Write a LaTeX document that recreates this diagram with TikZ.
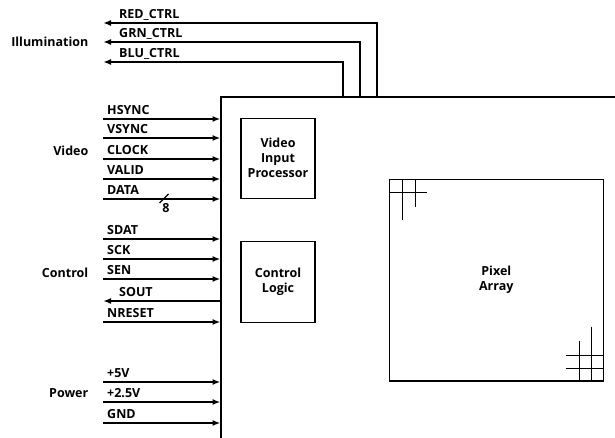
\documentclass[tikz,border=0pt]{standalone}
\usepackage{fontspec}
\setmainfont{Open Sans}
\usetikzlibrary{arrows.meta,positioning}

\tikzset{
  sig/.style={line width=2pt,-{Latex[length=8pt,width=6pt]}},
  sigtxt/.style={font=\bfseries\fontsize{12.5}{14}\selectfont,anchor=base west,inner sep=0pt},
  grptxt/.style={font=\bfseries\fontsize{12.5}{14}\selectfont,anchor=east,inner sep=0pt},
  blk/.style={draw,line width=1.5pt,align=center,inner sep=0pt,
    font=\bfseries\fontsize{12.5}{15}\selectfont},
  gridln/.style={line width=1pt}
}

\begin{document}
\begin{tikzpicture}[x=1pt,y=-1pt]
      \useasboundingbox (0,0) rectangle (615,438);
      % sensor chip outline
      \draw[line width=1.5pt] (615,97) -- (221,97) -- (221,438);
      % illumination outputs
      \foreach \i/\x/\y/\lbl in {1/377/23/RED\_CTRL,2/360/42/GRN\_CTRL,3/343/62/BLU\_CTRL}{
        \coordinate (ill\i) at (\x,97);
        \coordinate (illend\i) at (103,\y);
        \draw[sig] (ill\i) |- (illend\i);
        \node[sigtxt] (illtxt\i) at (119,{\y-4.5}) {\lbl};
      }
      \node[grptxt] (illum) at (88.5,42.3) {Illumination};
      % video inputs
      \foreach \i/\y/\lbl in {1/119/HSYNC,2/138/VSYNC,3/159/CLOCK,4/179/VALID,5/199/DATA}{
        \coordinate (vid\i) at (103,\y);
        \coordinate (vidend\i) at (220.5,\y);
        \draw[sig] (vid\i) -- (vidend\i);
        \node[sigtxt] (vidtxt\i) at (107,{\y-4.5}) {\lbl};
      }
      \node[grptxt] (video) at (88.5,151) {Video};
      \draw[line width=1.2pt] (159.5,203) -- (168.5,194);
      \node[font=\bfseries\fontsize{12.5}{14}\selectfont,inner sep=0pt] (width) at (166,208.3) {8};
      % control interface
      \foreach \i/\y/\lbl in {1/239/SDAT,2/259/SCK,3/279/SEN,5/322/NRESET}{
        \coordinate (ctl\i) at (103,\y);
        \coordinate (ctlend\i) at (220.5,\y);
        \draw[sig] (ctl\i) -- (ctlend\i);
        \node[sigtxt] (ctltxt\i) at (107,{\y-4.5}) {\lbl};
      }
      \coordinate (ctl4) at (220.5,301);
      \coordinate (ctlend4) at (103,301);
      \draw[sig] (ctl4) -- (ctlend4);
      \node[sigtxt] (ctltxt4) at (119,296.5) {SOUT};
      \node[grptxt] (control) at (88.5,273) {Control};
      % power
      \foreach \i/\y/\lbl in {1/382/+5V,2/402/+2.5V,3/423/GND}{
        \coordinate (pwr\i) at (103,\y);
        \coordinate (pwrend\i) at (220.5,\y);
        \draw[sig] (pwr\i) -- (pwrend\i);
        \node[sigtxt] (pwrtxt\i) at (107,{\y-4.5}) {\lbl};
      }
      \node[grptxt] (power) at (88.5,393) {Power};
      % internal blocks
      \node[blk,minimum width=74pt,minimum height=80pt] (vip) at (278,158.3) {Video\\Input\\Processor};
      \node[blk,minimum width=74pt,minimum height=80.6pt] (logic) at (278,282) {Control\\Logic};
      \node[blk,minimum width=214pt,minimum height=201.7pt] (pix) at (496.3,280.2) {Pixel\\Array};
      % pixel grid corners
      \draw[gridln] (389.3,193) -- (427,193);
      \draw[gridln] (402.5,179.3) -- (402.5,220);
      \draw[gridln] (415.5,179.3) -- (415.5,207.3);
      \draw[gridln] (566,355.5) -- (603.3,355.5);
      \draw[gridln] (566,368.5) -- (603.3,368.5);
      \draw[gridln] (579.5,340.7) -- (579.5,381);
      \draw[gridln] (591.5,326.7) -- (591.5,381);
\end{tikzpicture}
\end{document}
